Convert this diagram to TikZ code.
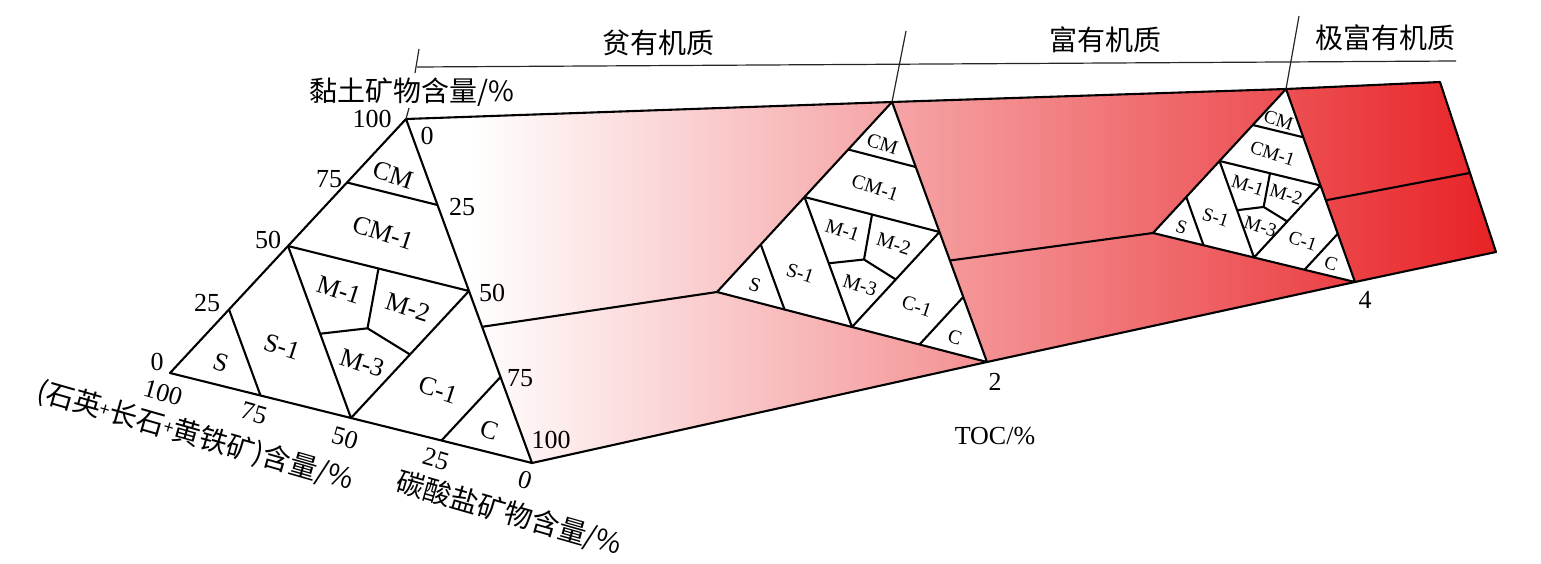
\documentclass[tikz,border=0pt]{standalone}
\usepackage{fontspec}
\setmainfont{Liberation Serif}
\newfontfamily\cjk{Noto Sans CJK SC}
\usetikzlibrary{calc}
\definecolor{myred}{RGB}{232,34,38}
\pgfdeclarehorizontalshading{redfade}{100bp}{color(0bp)=(white); color(28bp)=(white); color(75bp)=(myred); color(100bp)=(myred)}
\newcommand{\splus}{\raisebox{3pt}{\fontsize{18}{18}\selectfont +}}
\tikzset{
  edge/.style={line width=2.1pt, line join=round},
  guide/.style={line width=1.2pt, black!85},
  num/.style={font=\fontsize{26}{26}\selectfont, inner sep=0pt},
  bnum/.style={num, rotate=-16},
  reg/.style={font=\fontsize{#1}{#1}\selectfont, rotate=-18, inner sep=0pt},
  cjklab/.style={font=\cjk\fontsize{28}{28}\selectfont, inner sep=0pt},
}
\newcommand{\terntri}[2]{%
  \coordinate (#1L75) at ($(#1A)!.25!(#1B)$);
  \coordinate (#1L50) at ($(#1A)!.5!(#1B)$);
  \coordinate (#1L25) at ($(#1A)!.75!(#1B)$);
  \coordinate (#1R25) at ($(#1A)!.25!(#1C)$);
  \coordinate (#1R50) at ($(#1A)!.5!(#1C)$);
  \coordinate (#1R75) at ($(#1A)!.75!(#1C)$);
  \coordinate (#1D75) at ($(#1B)!.25!(#1C)$);
  \coordinate (#1D50) at ($(#1B)!.5!(#1C)$);
  \coordinate (#1D25) at ($(#1B)!.75!(#1C)$);
  \coordinate (#1P) at (barycentric cs:#1A=.30,#1B=.35,#1C=.35);
  \coordinate (#1Q) at ($(#1L50)!.51!(#1D50)$);
  \coordinate (#1R) at ($(#1R50)!.5!(#1D50)$);
  \coordinate (#1T) at ($(#1L50)!.5!(#1R50)$);
  \draw[edge] (#1A) -- (#1B) -- (#1C) -- cycle;
  \draw[edge] (#1L75) -- (#1R25);
  \draw[edge] (#1L50) -- (#1R50);
  \draw[edge] (#1L25) -- (#1D75);
  \draw[edge] (#1L50) -- (#1D50) -- (#1R50);
  \draw[edge] (#1R75) -- (#1D25);
  \draw[edge] (#1T) -- (#1P);
  \draw[edge] (#1Q) -- (#1P) -- (#1R);
  \node[reg=#2] (#1nCM) at (barycentric cs:#1A=.8106,#1B=.1018,#1C=.0876) {CM};
  \node[reg=#2] (#1nCMa) at (barycentric cs:#1A=.617,#1B=.197,#1C=.186) {CM-1};
  \node[reg=#2] (#1nMa) at (barycentric cs:#1A=.400,#1B=.394,#1C=.206) {M-1};
  \node[reg=#2] (#1nMb) at (barycentric cs:#1A=.400,#1B=.204,#1C=.396) {M-2};
  \node[reg=#2] (#1nMc) at (barycentric cs:#1A=.185,#1B=.405,#1C=.410) {M-3};
  \node[reg=#2] (#1nS) at (barycentric cs:#1A=.0725,#1B=.8339,#1C=.0936) {S};
  \node[reg=#2] (#1nSa) at (barycentric cs:#1A=.172,#1B=.631,#1C=.197) {S-1};
  \node[reg=#2] (#1nCa) at (barycentric cs:#1A=.159,#1B=.204,#1C=.637) {C-1};
  \node[reg=#2] (#1nC) at (barycentric cs:#1A=.0714,#1B=.0936,#1C=.835) {C};
}
\begin{document}
\begin{tikzpicture}[x=1pt,y=-1pt]
\useasboundingbox (0,0) rectangle (1541,564);
% vertices
\coordinate (t1A) at (406,119);
\coordinate (t1B) at (170,373);
\coordinate (t1C) at (532,463);
\coordinate (t2A) at (892,102);
\coordinate (t2B) at (717,292);
\coordinate (t2C) at (987,362);
\coordinate (t3A) at (1286,89);
\coordinate (t3B) at (1153,233);
\coordinate (t3C) at (1355,282);
\coordinate (t4A) at (1440,82);
\coordinate (t4C) at (1496,252);
\coordinate (t4B) at ($(t4A)!0.535!(t4C)$);
\coordinate (x1) at (intersection of t1B--t2B and t1A--t1C);
\coordinate (x2) at (intersection of t2B--t3B and t2A--t2C);
\coordinate (x3) at (intersection of t3B--t4B and t3A--t3C);
% shaded body
\shade[shading=redfade]
  (t1A) -- (t2A) -- (t3A) -- (t4A) -- (t4C) -- (t3C) -- (t2C) -- (t1C) -- cycle;
\fill[white] (t2A) -- (t2B) -- (t2C) -- cycle;
\fill[white] (t3A) -- (t3B) -- (t3C) -- cycle;
\draw[edge] (t1A) -- (t2A) -- (t3A) -- (t4A) -- (t4C) -- (t3C) -- (t2C) -- (t1C);
\draw[edge] (x1) -- (t2B);
\draw[edge] (x2) -- (t3B);
\draw[edge] (x3) -- (t4B);
% triangles
\terntri{t1}{26}
\terntri{t2}{20}
\terntri{t3}{19}
% top guide
\coordinate (g0) at (417,67);
\coordinate (g1) at (1456,61);
\coordinate (k0a) at (419,49);
\coordinate (k0b) at (415,73);
\coordinate (k1) at (906,31);
\coordinate (k2) at (1299,16);
\coordinate (k3) at (409,108);
\draw[guide] (g0) -- (g1);
\draw[guide] (k0a) -- (k0b);
\draw[guide] (k1) -- (t2A);
\draw[guide] (k2) -- (t3A);
\draw[guide] (k3) -- (t1A);
\node[cjklab] (h1) at (658,43) {贫有机质};
\node[cjklab] (h2) at (1105,40) {富有机质};
\node[cjklab] (h3) at (1385,38) {极富有机质};
% axis labels
\node[cjklab] (ax1) at (412,92) {黏土矿物含量/\%};
\node[cjklab, rotate=-16] (ax2) at (195,436) {(石英\splus 长石\splus 黄铁矿)含量/\%};
\node[cjklab, rotate=-16] (ax3) at (509,514) {碳酸盐矿物含量/\%};
\node[num] (toc) at (995,436) {TOC/\%};
\node[num] (v2) at (995,382) {2};
\node[num] (v4) at (1365,300) {4};
% ticks triangle 1
\node[num] (l100) at (372,119) {100};
\node[num] (l75) at (329,179) {75};
\node[num] (l50) at (268,240) {50};
\node[num] (l25) at (207,303) {25};
\node[num] (l0) at (157,362) {0};
\node[num] (r0) at (427,136) {0};
\node[num] (r25) at (462,207) {25};
\node[num] (r50) at (492,293) {50};
\node[num] (r75) at (520,378) {75};
\node[num] (r100) at (551,440) {100};
\node[bnum] (b100) at (163,393) {100};
\node[bnum] (b75) at (254,413) {75};
\node[bnum] (b50) at (345,438) {50};
\node[bnum] (b25) at (436,459) {25};
\node[bnum] (b0) at (525,480) {0};
\end{tikzpicture}
\end{document}
